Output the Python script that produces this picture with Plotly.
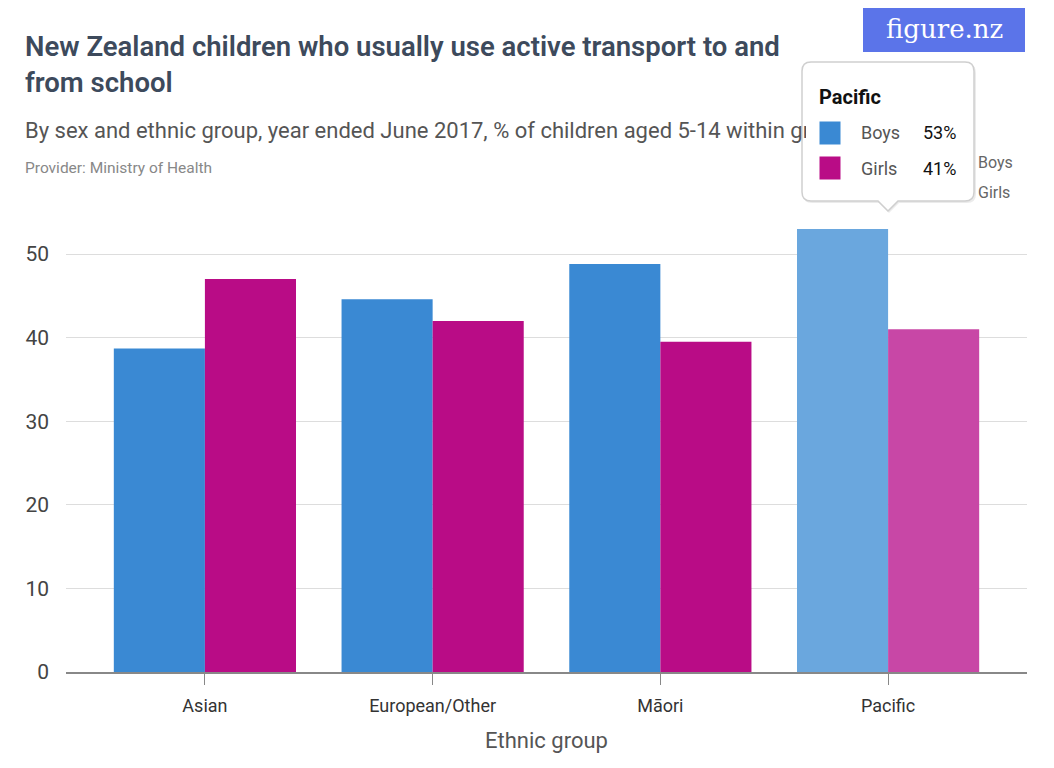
import plotly.graph_objects as go

categories = ["Asian", "European/Other", "Māori", "Pacific"]
boys = [38.7, 44.6, 48.8, 53.0]
girls = [47.0, 42.0, 39.5, 41.0]
y_ticks = [0, 10, 20, 30, 40, 50]

BLUE = "#3a89d3"
MAGENTA = "#b90c86"
BLUE_HL = "#6aa7de"
MAGENTA_HL = "#c847a6"

OFF = 8  # page body margin
W_PX, H_PX = 1054 - OFF, 768 - OFF
L, R, T, B = 66, 1027, 226, 672  # page pixel coordinates of plot area
PW, PH = R - L, B - T


def px(x):
    return (x - L) / PW


def py(y):
    return (B - y) / PH


FONT = "Roboto"

fig = go.Figure()
fig.add_trace(go.Bar(
    x=categories, y=boys, name="Boys",
    marker=dict(color=[BLUE, BLUE, BLUE, BLUE_HL], line=dict(width=0)),
))
fig.add_trace(go.Bar(
    x=categories, y=girls, name="Girls",
    marker=dict(color=[MAGENTA, MAGENTA, MAGENTA, MAGENTA_HL], line=dict(width=0)),
))

fig.update_layout(
    width=W_PX, height=H_PX,
    margin=dict(l=L - OFF, r=W_PX - (R - OFF), t=T - OFF, b=H_PX - (B - OFF), autoexpand=False),
    paper_bgcolor="white", plot_bgcolor="white",
    barmode="group", bargap=0.2, bargroupgap=0,
    showlegend=False,
    font=dict(family=FONT, color="#444"),
    xaxis=dict(
        range=[-0.61, 3.61], showgrid=False,
        showline=True, linecolor="#888", linewidth=2,
        ticks="outside", ticklen=11, tickcolor="#888", tickwidth=1,
        tickfont=dict(size=18, color="#333"), ticklabelstandoff=5,
        title=dict(text="Ethnic group", font=dict(size=22, color="#555"), standoff=18),
    ),
    yaxis=dict(
        range=[0, 53.35], tickvals=y_ticks, showgrid=True, gridcolor="#dddddd",
        gridwidth=1, zeroline=False, showline=False,
        tickfont=dict(size=21, color="#444"), ticklabelstandoff=16,
    ),
)

ann = []
# Title / subtitle / provider
ann.append(dict(text="New Zealand children who usually use active transport to and<br>from school",
                x=px(23), y=py(28), xanchor="left", yanchor="top", align="left",
                font=dict(size=27.5, color="#3d4a5c", weight=600), showarrow=False))
ann.append(dict(text="By sex and ethnic group, year ended June 2017, % of children aged 5-14 within group",
                x=px(23), y=py(131), xanchor="left", yanchor="middle", align="left",
                font=dict(size=22, color="#555"), showarrow=False))
ann.append(dict(text="Provider: Ministry of Health",
                x=px(23), y=py(168), xanchor="left", yanchor="middle", align="left",
                font=dict(size=15.5, color="#888"), showarrow=False))
# logo
ann.append(dict(text="figure.nz", x=px(944), y=py(29), xanchor="center", yanchor="middle",
                font=dict(size=26, color="white", family="DejaVu Serif"), showarrow=False))
# legend (partially hidden)
ann.append(dict(text="Boys", x=px(976), y=py(163), xanchor="left", yanchor="middle",
                font=dict(size=16, color="#666"), showarrow=False))
ann.append(dict(text="Girls", x=px(976), y=py(193), xanchor="left", yanchor="middle",
                font=dict(size=16, color="#666"), showarrow=False))
# tooltip cover
ann.append(dict(text=" ", x=px(888), y=py(131.5), xanchor="center", yanchor="middle",
                width=164, height=131, bgcolor="white", borderpad=0, borderwidth=0,
                showarrow=False))
ann.append(dict(text="<b>Pacific</b>", x=px(817), y=py(97), xanchor="left", yanchor="middle",
                font=dict(size=20, color="#111"), showarrow=False))
for yy, col, lab, val in [(133, BLUE, "Boys", boys[3]), (168, MAGENTA, "Girls", girls[3])]:
    ann.append(dict(text=" ", x=px(819), y=py(yy), xanchor="left", yanchor="middle",
                    width=20, height=22, bgcolor=col, borderpad=0, showarrow=False,
                    font=dict(size=2)))
    ann.append(dict(text=lab, x=px(859), y=py(yy), xanchor="left", yanchor="middle",
                    font=dict(size=18, color="#555"), showarrow=False))
    ann.append(dict(text=f"{val:.0f}%", x=px(958), y=py(yy), xanchor="right", yanchor="middle",
                    font=dict(size=18, color="#111"), showarrow=False))
for a in ann:
    a["xref"] = "paper"
    a["yref"] = "paper"
fig.update_layout(annotations=ann)


def rounded_box_path(x0, y0, x1, y1, r, tip_x, tip_h, tip_w):
    s = f"M {px(x0 + r)},{py(y0)} L {px(x1 - r)},{py(y0)} "
    s += f"Q {px(x1)},{py(y0)} {px(x1)},{py(y0 + r)} "
    s += f"L {px(x1)},{py(y1 - r)} Q {px(x1)},{py(y1)} {px(x1 - r)},{py(y1)} "
    s += f"L {px(tip_x + tip_w)},{py(y1)} L {px(tip_x)},{py(y1 + tip_h)} L {px(tip_x - tip_w)},{py(y1)} "
    s += f"L {px(x0 + r)},{py(y1)} Q {px(x0)},{py(y1)} {px(x0)},{py(y1 - r)} "
    s += f"L {px(x0)},{py(y0 + r)} Q {px(x0)},{py(y0)} {px(x0 + r)},{py(y0)} Z"
    return s


shapes = [
    dict(type="rect", xref="paper", yref="paper", x0=px(863), x1=px(1025), y0=py(OFF), y1=py(52),
         fillcolor="#5b74e9", line=dict(width=0), layer="above"),
    dict(type="path", xref="paper", yref="paper",
         path=rounded_box_path(803, 64, 976, 203, 9, 889, 10, 10),
         fillcolor="rgba(0,0,0,0.08)", line=dict(width=0), layer="above"),
    dict(type="path", xref="paper", yref="paper",
         path=rounded_box_path(802, 62, 974, 201, 9, 888, 10, 10),
         fillcolor="white", line=dict(color="#cfcfcf", width=1.5), layer="above"),
]
fig.update_layout(shapes=shapes)

fig.write_html("out.html")
